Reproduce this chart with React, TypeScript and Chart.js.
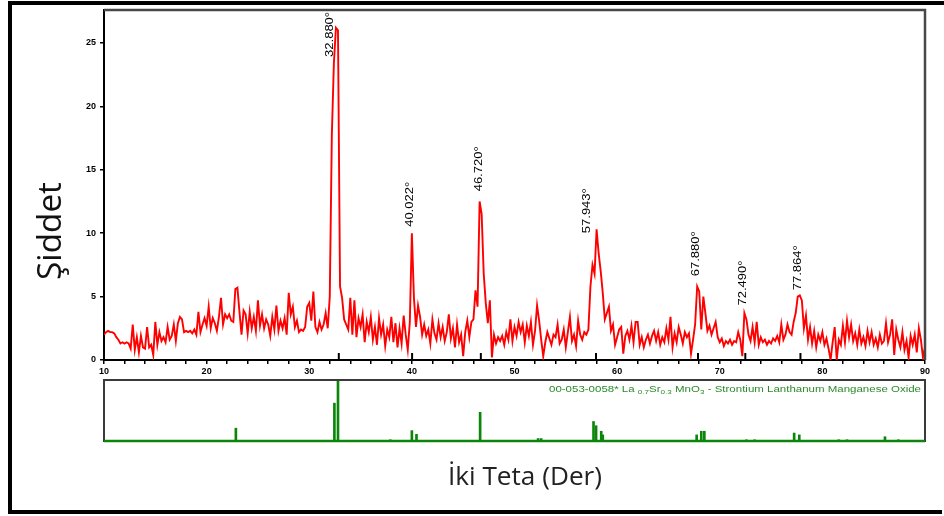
import { useEffect, useRef } from "react";
import { Chart, registerables } from "chart.js";

Chart.register(...registerables);

// ---------- DATA ----------
const START_2THETA = 10;
const STEP_2THETA = 0.2;
// Measured intensity (Şiddet), one value every 0.2° from 10° to 90°
const INTENSITY = [
  2.0, 2.2, 2.3, 2.2, 2.2, 2.1, 1.8, 1.6, 1.3, 1.4,
  1.3, 1.4, 1.3, 0.9, 2.8, 0.8, 1.8, 0.6, 1.9, 1.0,
  0.9, 2.6, 1.0, 1.2, 0.4, 3.0, 1.2, 2.2, 1.5, 1.8,
  1.4, 2.6, 1.6, 1.9, 2.8, 1.5, 2.9, 3.4, 3.2, 2.2,
  2.3, 2.2, 2.3, 2.1, 2.4, 2.0, 3.8, 2.2, 2.8, 3.3,
  2.7, 4.2, 2.5, 3.3, 2.9, 2.3, 3.4, 4.9, 2.8, 3.6,
  3.3, 3.6, 3.1, 3.0, 5.6, 5.7, 3.8, 2.0, 3.9, 3.6,
  2.1, 3.8, 2.5, 3.4, 2.3, 4.7, 2.7, 3.6, 2.5, 3.2,
  2.8, 1.9, 3.4, 2.4, 4.3, 2.3, 3.1, 2.5, 3.3, 2.0,
  5.3, 3.6, 4.2, 2.6, 3.1, 2.2, 2.4, 2.3, 2.6, 4.2,
  4.5, 3.1, 5.4, 2.6, 2.2, 3.0, 2.4, 2.8, 3.7, 2.5,
  5.0, 17.7, 23.4, 26.2, 26.0, 5.8, 4.9, 3.2, 2.8, 2.4,
  4.9, 2.0, 4.7, 1.8, 3.3, 2.6, 3.6, 1.4, 3.0, 2.2,
  3.4, 1.6, 2.6, 1.2, 3.3, 2.0, 2.8, 1.1, 2.4, 1.8,
  3.4, 1.4, 2.9, 1.0, 2.5, 1.3, 3.5, 2.0, 0.8, 3.0,
  10.0, 4.9, 2.6, 4.3, 3.4, 2.0, 2.8, 1.9, 2.4, 1.3,
  3.2, 2.1, 1.6, 2.9, 1.8, 2.6, 1.5, 2.2, 3.6, 1.7,
  2.5, 1.0, 2.8, 1.4, 2.0, 0.3, 2.2, 3.1, 1.8, 3.0,
  3.2, 5.5, 4.2, 12.5, 11.5, 6.8, 4.5, 2.9, 4.7, 0.2,
  2.0, 1.3, 1.8, 1.5, 1.9, 1.2, 2.2, 1.6, 3.2, 1.5,
  2.6, 1.9, 3.0, 2.2, 2.8, 1.4, 2.7, 1.9, 3.0, 1.2,
  2.3, 4.3, 3.1, 1.6, 0.3, 1.4, 2.2, 1.7, 1.2, 2.0,
  1.8, 2.8, 1.3, 1.6, 2.4, 1.0, 2.2, 3.4, 1.5, 2.0,
  1.1, 3.1, 2.0, 1.6, 2.2, 2.0, 2.4, 5.8, 7.5, 6.8,
  10.3, 8.4, 7.0, 5.3, 3.2, 3.7, 4.2, 2.3, 2.8, 1.2,
  1.8, 2.4, 2.6, 0.5, 1.9, 2.3, 1.6, 2.7, 1.4, 3.0,
  3.0, 1.2, 1.8, 1.0, 1.6, 2.0, 1.3, 1.9, 2.3, 1.5,
  2.2, 1.2, 1.8, 1.4, 2.5, 1.6, 3.4, 1.0, 2.1, 1.4,
  2.6, 2.0, 1.3, 2.2, 1.8, 2.1, 0.5, 1.6, 2.8, 5.8,
  5.4, 2.4, 5.0, 3.7, 2.3, 2.7, 2.0, 2.5, 3.0, 1.8,
  1.4, 1.7, 1.1, 1.5, 1.3, 1.6, 1.2, 1.5, 1.4, 2.2,
  1.6, 0.3, 3.7, 3.2, 2.0, 1.5, 2.6, 1.4, 3.0, 1.2,
  1.8, 1.4, 1.6, 1.2, 1.5, 1.3, 1.7, 1.5, 1.9, 1.4,
  2.8, 1.6, 2.0, 2.8, 2.2, 2.0, 3.0, 3.7, 5.0, 5.1,
  4.7, 2.5, 3.5, 1.6, 2.6, 1.3, 2.3, 1.0, 2.0, 1.5,
  2.2, 1.2, 1.7, 0.9, 0.0, 1.4, 2.6, 0.0, 1.6, 1.2,
  2.7, 1.4, 3.1, 1.8, 2.8, 1.5, 2.1, 1.2, 2.4, 1.3,
  1.8, 1.1, 2.3, 1.4, 2.2, 1.2, 1.7, 1.0, 2.0, 1.3,
  1.5, 2.9, 1.4, 2.0, 3.2, 0.4, 2.4, 1.6, 1.0, 2.2,
  0.8, 1.5, 0.2, 1.9, 1.2, 2.0, 0.6, 2.5, 1.6, 0.2,
  1.0,
];

// Peak annotations
const PEAK_POS = [32.88, 40.022, 46.72, 57.943, 67.88, 72.49, 77.864];
const PEAK_LABELS = ["32.880°", "40.022°", "46.720°", "57.943°", "67.880°", "72.490°", "77.864°"];
const PEAK_LABEL_BASE = [23.9, 10.5, 13.3, 10.0, 6.6, 4.3, 5.5];

// Reference pattern 00-053-0058 (relative intensity %)
const REF_POS = [22.85, 32.45, 32.8, 37.9, 40.0, 40.45, 46.65, 52.3, 52.6, 57.7, 57.95, 58.45, 58.6, 67.75, 68.2, 68.5, 72.6, 73.4, 77.25, 77.75, 81.6, 82.4, 86.1, 87.4];
const REF_INT = [21, 62, 100, 2, 17, 11, 47, 4, 4, 32, 25, 16, 10, 10, 16, 16, 2, 2, 13, 10, 2, 2, 7, 2];

const X_MIN = 10;
const X_MAX = 90;
const X_TICK_STEP = 2;
const X_LABEL_EVERY = 10;
const Y_MIN = 0;
const Y_MAX = 27.6;
const Y_TICKS = [0, 5, 10, 15, 20, 25];

const Y_TITLE = "Şiddet";
const X_TITLE = "İki Teta (Der)";
const REF_TEXT: [string, boolean][] = [
  ["00-053-0058* La ", false],
  ["0.7", true],
  ["Sr", false],
  ["0.3", true],
  [" MnO", false],
  ["3", true],
  [" - Strontium Lanthanum Manganese Oxide", false],
];

const SMALL_FONT = '"Liberation Sans", Arial, sans-serif';
const TITLE_FONT = '"Open Sans", sans-serif';

function fitFont(ctx: CanvasRenderingContext2D, text: string, target: number) {
  ctx.font = `30px ${TITLE_FONT}`;
  const w = ctx.measureText(text).width;
  return (30 * target) / w;
}

const mainOverlay = {
  id: "mainOverlay",
  afterDraw(chart: any) {
    const { ctx, chartArea: a } = chart;
    const x = chart.scales.x;
    const y = chart.scales.y;
    ctx.save();
    // frame top + right
    ctx.strokeStyle = "#474747";
    ctx.lineWidth = 2.5;
    ctx.beginPath();
    ctx.moveTo(a.left, a.top);
    ctx.lineTo(a.right, a.top);
    ctx.lineTo(a.right, a.bottom);
    ctx.stroke();

    // peak position ticks
    ctx.strokeStyle = "#000";
    ctx.lineWidth = 2;
    PEAK_POS.forEach((p) => {
      const px = x.getPixelForValue(p);
      ctx.beginPath();
      ctx.moveTo(px, a.bottom);
      ctx.lineTo(px, a.bottom - 7);
      ctx.stroke();
    });

    // peak labels (rotated)
    ctx.fillStyle = "#000";
    ctx.font = `10px ${SMALL_FONT}`;
    ctx.textAlign = "left";
    ctx.textBaseline = "middle";
    PEAK_LABELS.forEach((lab, i) => {
      const p = PEAK_POS[i];
      let localMax = 0;
      INTENSITY.forEach((v, k) => {
        const t = START_2THETA + k * STEP_2THETA;
        if (Math.abs(t - p) <= 0.3) localMax = Math.max(localMax, v);
      });
      const off = PEAK_LABEL_BASE[i] < localMax ? -9 : -2;
      const px = x.getPixelForValue(p) + off;
      const py = y.getPixelForValue(PEAK_LABEL_BASE[i]);
      ctx.save();
      ctx.translate(px, py);
      ctx.rotate(-Math.PI / 2);
      ctx.scale(1.3, 1);
      ctx.fillText(lab, 0, 0);
      ctx.restore();
    });

    // axis titles
    ctx.fillStyle = "#111";
    const ys = fitFont(ctx, Y_TITLE, 98);
    ctx.font = `${ys}px ${TITLE_FONT}`;
    ctx.save();
    ctx.translate(61, 231);
    ctx.rotate(-Math.PI / 2);
    ctx.textAlign = "center";
    ctx.textBaseline = "alphabetic";
    ctx.fillText(Y_TITLE, 0, 0);
    ctx.restore();

    const xs = fitFont(ctx, X_TITLE, 154);
    ctx.font = `${xs}px ${TITLE_FONT}`;
    ctx.fillStyle = "#222";
    ctx.textAlign = "center";
    ctx.textBaseline = "alphabetic";
    ctx.fillText(X_TITLE, 525, 485);

    // outer border
    ctx.fillStyle = "#000";
    ctx.fillRect(8, 1, 936, 4);
    ctx.fillRect(8, 1, 4, 513);
    ctx.fillRect(8, 510, 934, 4);
    ctx.restore();
  },
};

const refOverlay = {
  id: "refOverlay",
  afterDraw(chart: any) {
    const { ctx, chartArea: a } = chart;
    ctx.save();
    ctx.strokeStyle = "#3a3a3a";
    ctx.lineWidth = 2;
    ctx.strokeRect(a.left, a.top, a.right - a.left, a.bottom - a.top);
    ctx.strokeStyle = "#0b860b";
    ctx.lineWidth = 2.5;
    ctx.beginPath();
    ctx.moveTo(a.left, a.bottom);
    ctx.lineTo(a.right, a.bottom);
    ctx.stroke();

    // reference card text
    const normal = `8.5px ${SMALL_FONT}`;
    const sub = `6px ${SMALL_FONT}`;
    let total = 0;
    REF_TEXT.forEach(([t, s]) => {
      ctx.font = s ? sub : normal;
      total += ctx.measureText(t).width;
    });
    const target = 372;
    const sx = target / total;
    ctx.fillStyle = "#2a8a2a";
    ctx.textBaseline = "alphabetic";
    ctx.textAlign = "left";
    ctx.translate(a.right - 4 - target, 392);
    ctx.scale(sx, 1);
    let cx = 0;
    REF_TEXT.forEach(([t, s]) => {
      ctx.font = s ? sub : normal;
      ctx.fillText(t, cx, s ? 2 : 0);
      cx += ctx.measureText(t).width;
    });
    ctx.restore();
  },
};

export default function App() {
  const mainRef = useRef<HTMLCanvasElement>(null);
  const refRef = useRef<HTMLCanvasElement>(null);

  useEffect(() => {
    const data = INTENSITY.map((v, i) => ({ x: START_2THETA + i * STEP_2THETA, y: v }));
    const tickFont = { family: SMALL_FONT, size: 9, weight: "bold" as const };
    const main = new Chart(mainRef.current!, {
      type: "line",
      data: {
        datasets: [
          {
            data,
            borderColor: "#ff0000",
            borderWidth: 1.9,
            pointRadius: 0,
            fill: false,
            tension: 0,
          },
        ],
      },
      options: {
        responsive: false,
        animation: false,
        layout: { padding: { left: 54, top: 10, right: 19, bottom: 136 } },
        plugins: { legend: { display: false }, tooltip: { enabled: false } },
        scales: {
          x: {
            type: "linear",
            min: X_MIN,
            max: X_MAX,
            ticks: {
              stepSize: X_TICK_STEP,
              autoSkip: false,
              maxRotation: 0,
              padding: 2,
              color: "#000",
              font: tickFont,
              callback: (v: any) => (Number(v) % X_LABEL_EVERY === 0 ? String(v) : ""),
            },
            grid: { drawOnChartArea: false, drawTicks: true, tickLength: 4, color: "#000", lineWidth: 1.5 },
            border: { color: "#000", width: 2 },
            afterFit: (s: any) => {
              s.height = 20;
            },
          },
          y: {
            type: "linear",
            min: Y_MIN,
            max: Y_MAX,
            afterBuildTicks: (s: any) => {
              s.ticks = Y_TICKS.map((v) => ({ value: v }));
            },
            ticks: { padding: 4, color: "#000", font: tickFont },
            grid: { drawOnChartArea: false, drawTicks: true, tickLength: 4, color: "#000", lineWidth: 1.5 },
            border: { color: "#000", width: 2 },
            afterFit: (s: any) => {
              s.width = 50;
            },
          },
        },
      },
      plugins: [mainOverlay],
    });

    const refData = REF_POS.map((p, i) => ({ x: p, y: REF_INT[i] }));
    const ref = new Chart(refRef.current!, {
      type: "bar",
      data: {
        datasets: [
          {
            data: refData,
            backgroundColor: "#0b860b",
            barThickness: 2,
          } as any,
        ],
      },
      options: {
        responsive: false,
        animation: false,
        layout: { padding: { left: 104, top: 380, right: 19, bottom: 75 } },
        plugins: { legend: { display: false }, tooltip: { enabled: false } },
        scales: {
          x: { type: "linear", min: X_MIN, max: X_MAX, display: false, offset: false, grid: { offset: false } },
          y: { type: "linear", min: 0, max: 100, display: false },
        },
      },
      plugins: [refOverlay],
    });

    return () => {
      main.destroy();
      ref.destroy();
    };
  }, []);

  return (
    <div style={{ position: "fixed", left: 0, top: 0, width: 944, height: 516, background: "#fff" }}>
      <canvas ref={mainRef} width={944} height={516} style={{ position: "absolute", left: 0, top: 0, width: 944, height: 516 }} />
      <canvas ref={refRef} width={944} height={516} style={{ position: "absolute", left: 0, top: 0, width: 944, height: 516 }} />
    </div>
  );
}
